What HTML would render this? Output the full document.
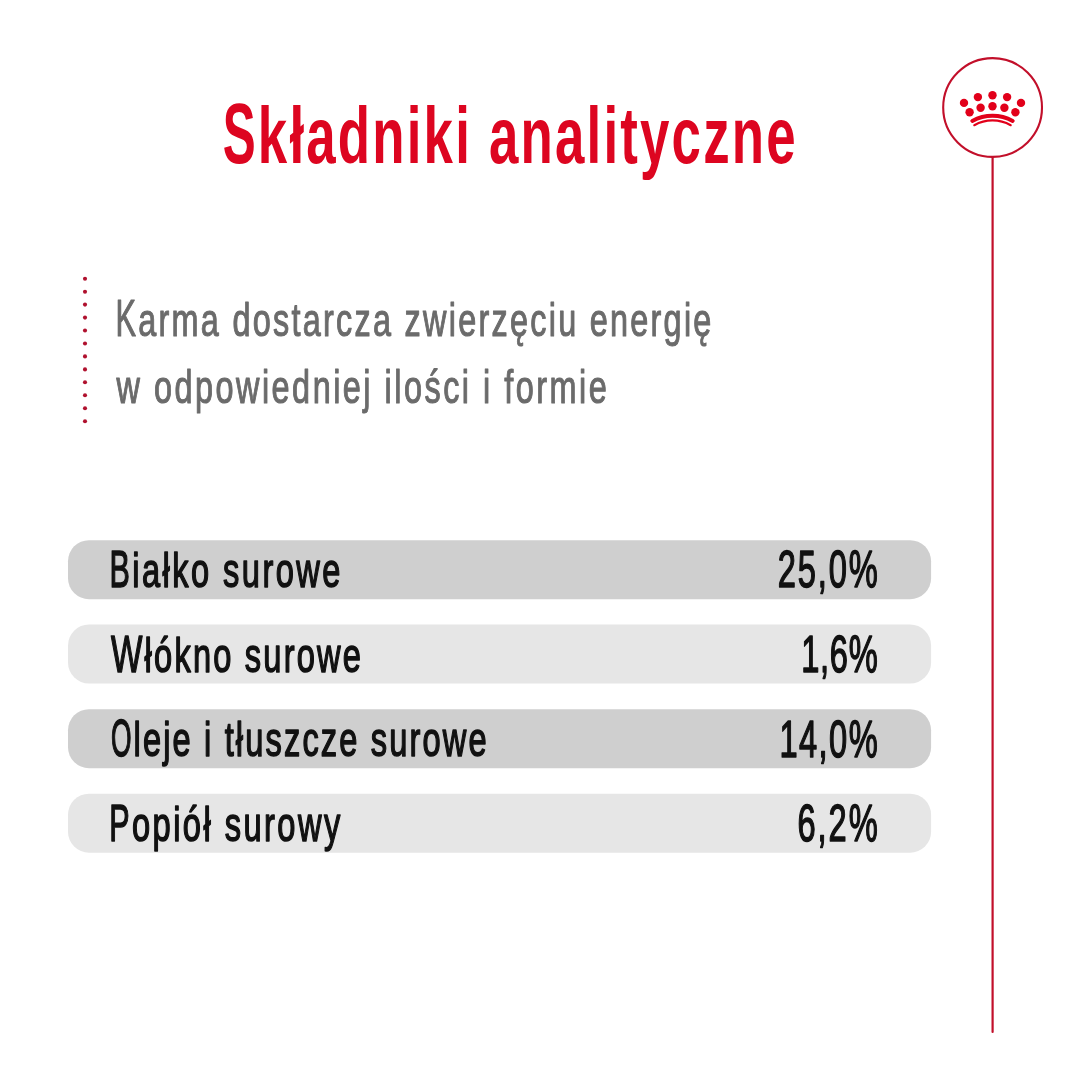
<!DOCTYPE html>
<html lang="pl">
<head>
<meta charset="utf-8">
<title>Składniki analityczne</title>
<style>
html,body{margin:0;padding:0;background:#fff;}
body{width:1080px;height:1080px;overflow:hidden;}
svg{display:block;will-change:transform;}
text{font-family:"Liberation Sans", Arial, sans-serif;}
</style>
</head>
<body>
<svg width="1080" height="1080" viewBox="0 0 1080 1080">
  <rect x="0" y="0" width="1080" height="1080" fill="#ffffff"/>
  <!-- rows -->
  <rect x="68" y="540.2" width="863.1" height="59" rx="21" fill="#cfcfcf"/>
  <rect x="68" y="624.5" width="863.1" height="59" rx="21" fill="#e6e6e6"/>
  <rect x="68" y="709.2" width="863.1" height="59" rx="21" fill="#cfcfcf"/>
  <rect x="68" y="793.7" width="863.1" height="59" rx="21" fill="#e6e6e6"/>
  <!-- logo -->
  <circle cx="992.6" cy="107.5" r="49.4" fill="none" stroke="#c20f2a" stroke-width="2.1"/>
  <line x1="992.6" y1="157" x2="992.6" y2="1032" stroke="#c20f2a" stroke-width="2.2" stroke-linecap="round"/>
  <g fill="#e2001a">
    <circle cx="964" cy="102.9" r="4.2"/>
    <circle cx="977.9" cy="97.1" r="4.2"/>
    <circle cx="992.5" cy="95.3" r="4.2"/>
    <circle cx="1007.1" cy="97.1" r="4.2"/>
    <circle cx="1021" cy="102.9" r="4.2"/>
    <circle cx="969.6" cy="112.3" r="4.2"/>
    <circle cx="980.6" cy="107.8" r="4.2"/>
    <circle cx="992.5" cy="106.2" r="4.2"/>
    <circle cx="1004.4" cy="107.8" r="4.2"/>
    <circle cx="1015.4" cy="112.3" r="4.2"/>
  </g>
  <path d="M972.3 120.9 A42.5 42.5 0 0 1 1012.7 120.9" fill="none" stroke="#e2001a" stroke-width="4" stroke-linecap="round"/>
  <path d="M974.3 125.2 A37 37 0 0 1 1010.7 125.2" fill="none" stroke="#e2001a" stroke-width="2.2" stroke-linecap="round"/>
  <!-- dotted vertical -->
  <g fill="#b0112e">
    <circle cx="85" cy="278.7" r="2.05"/><circle cx="85" cy="291.7" r="2.05"/><circle cx="85" cy="304.6" r="2.05"/>
    <circle cx="85" cy="317.6" r="2.05"/><circle cx="85" cy="330.5" r="2.05"/><circle cx="85" cy="343.5" r="2.05"/>
    <circle cx="85" cy="356.4" r="2.05"/><circle cx="85" cy="369.4" r="2.05"/><circle cx="85" cy="382.3" r="2.05"/>
    <circle cx="85" cy="395.3" r="2.05"/><circle cx="85" cy="408.3" r="2.05"/><circle cx="85" cy="421.3" r="2.05"/>
  </g>
  <g transform="translate(222.70 163.3) scale(0.66 1)"><text x="0" y="0" font-weight="bold" fill="#dd0520" textLength="868.03" lengthAdjust="spacing"><tspan font-size="86" textLength="49.90" lengthAdjust="spacingAndGlyphs">S</tspan><tspan font-size="80">kładniki analityczne</tspan></text></g>
  <g transform="translate(115.40 336.3) scale(0.69 1)"><text x="0" y="0" font-weight="normal" fill="#6b6b6b" stroke="#6b6b6b" stroke-width="1.1" stroke-linejoin="round" textLength="863.77" lengthAdjust="spacing"><tspan font-size="52" textLength="29.83" lengthAdjust="spacingAndGlyphs">K</tspan><tspan font-size="47">arma dostarcza zwierzęciu energię</tspan></text></g>
  <g transform="translate(116.50 402.8) scale(0.69 1)"><text x="0" y="0" font-weight="normal" fill="#6b6b6b" stroke="#6b6b6b" stroke-width="1.1" stroke-linejoin="round" textLength="710.58" lengthAdjust="spacing"><tspan font-size="47">w odpowiedniej ilości i formie</tspan></text></g>
  <g transform="translate(109.40 587.4) scale(0.68 1)"><text x="0" y="0" font-weight="normal" fill="#111" stroke="#111" stroke-width="1.5" stroke-linejoin="round" textLength="339.85" lengthAdjust="spacing"><tspan font-size="51" textLength="29.93" lengthAdjust="spacingAndGlyphs">B</tspan><tspan font-size="48">iałko surowe</tspan></text></g>
  <g transform="translate(111.00 672.2) scale(0.68 1)"><text x="0" y="0" font-weight="normal" fill="#111" stroke="#111" stroke-width="1.5" stroke-linejoin="round" textLength="367.65" lengthAdjust="spacing"><tspan font-size="51" textLength="46.21" lengthAdjust="spacingAndGlyphs">W</tspan><tspan font-size="48">łókno surowe</tspan></text></g>
  <g transform="translate(110.90 756.4) scale(0.68 1)"><text x="0" y="0" font-weight="normal" fill="#111" stroke="#111" stroke-width="1.5" stroke-linejoin="round" textLength="552.50" lengthAdjust="spacing"><tspan font-size="51" textLength="30.15" lengthAdjust="spacingAndGlyphs">O</tspan><tspan font-size="48">leje i tłuszcze surowe</tspan></text></g>
  <g transform="translate(109.20 841.0) scale(0.68 1)"><text x="0" y="0" font-weight="normal" fill="#111" stroke="#111" stroke-width="1.5" stroke-linejoin="round" textLength="339.71" lengthAdjust="spacing"><tspan font-size="51" textLength="29.93" lengthAdjust="spacingAndGlyphs">P</tspan><tspan font-size="48">opiół surowy</tspan></text></g>
  <g transform="translate(777.80 587.3) scale(0.64 1)"><text x="0" y="0" font-weight="normal" fill="#111" stroke="#111" stroke-width="1.5" stroke-linejoin="round" textLength="156.09" lengthAdjust="spacing"><tspan font-size="51">25,0%</tspan></text></g>
  <g transform="translate(801.30 672.0) scale(0.64 1)"><text x="0" y="0" font-weight="normal" fill="#111" stroke="#111" stroke-width="1.5" stroke-linejoin="round" textLength="119.37" lengthAdjust="spacing"><tspan font-size="51">1,6%</tspan></text></g>
  <g transform="translate(779.40 756.6) scale(0.64 1)"><text x="0" y="0" font-weight="normal" fill="#111" stroke="#111" stroke-width="1.5" stroke-linejoin="round" textLength="153.59" lengthAdjust="spacing"><tspan font-size="51">14,0%</tspan></text></g>
  <g transform="translate(797.50 841.3) scale(0.64 1)"><text x="0" y="0" font-weight="normal" fill="#111" stroke="#111" stroke-width="1.5" stroke-linejoin="round" textLength="125.31" lengthAdjust="spacing"><tspan font-size="51">6,2%</tspan></text></g>
</svg>
</body>
</html>
